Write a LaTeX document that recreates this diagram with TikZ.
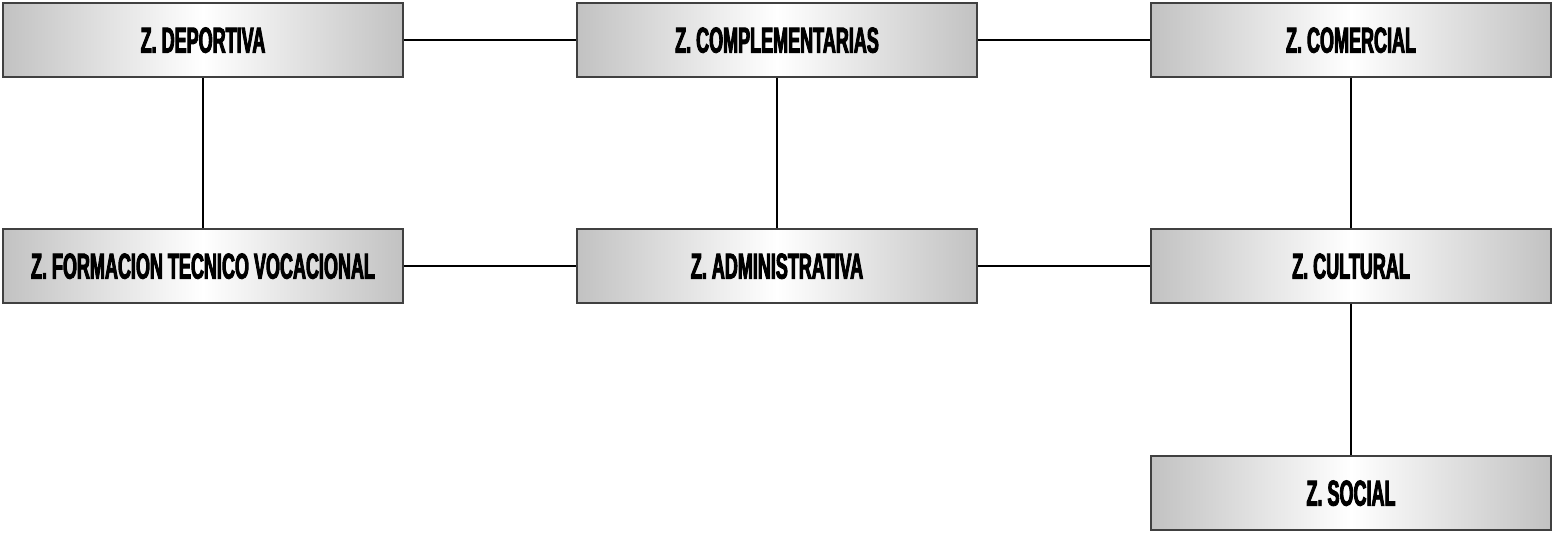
\documentclass[tikz,border=0pt]{standalone}
\usepackage{fontspec}
\setmainfont{Liberation Sans}[FakeStretch=0.5,FakeBold=2.5]
\begin{document}
\begin{tikzpicture}[x=0.5pt,y=-0.5pt]
\tikzset{
  zone/.style={draw=black!75, line width=0.8pt, minimum width=200pt, minimum height=37pt,
    inner sep=0pt, text depth=0pt, left color=black!24, right color=black!24, middle color=white,
    font=\bfseries\fontsize{18}{20}\selectfont},
  link/.style={draw=black, line width=0.6pt}
}
\useasboundingbox (0,0) rectangle (1552,532);
\node[zone] (dep) at (203,40) {Z. DEPORTIVA};
\node[zone] (comp) at (777,40) {Z. COMPLEMENTARIAS};
\node[zone] (com) at (1351,40) {Z. COMERCIAL};
\node[zone] (form) at (203,266) {Z. FORMACION TECNICO VOCACIONAL};
\node[zone] (adm) at (777,266) {Z. ADMINISTRATIVA};
\node[zone] (cult) at (1351,266) {Z. CULTURAL};
\node[zone] (soc) at (1351,493) {Z. SOCIAL};
\draw[link] (dep) -- (comp);
\draw[link] (comp) -- (com);
\draw[link] (form) -- (adm);
\draw[link] (adm) -- (cult);
\draw[link] (dep) -- (form);
\draw[link] (comp) -- (adm);
\draw[link] (com) -- (cult);
\draw[link] (cult) -- (soc);
\end{tikzpicture}
\end{document}
